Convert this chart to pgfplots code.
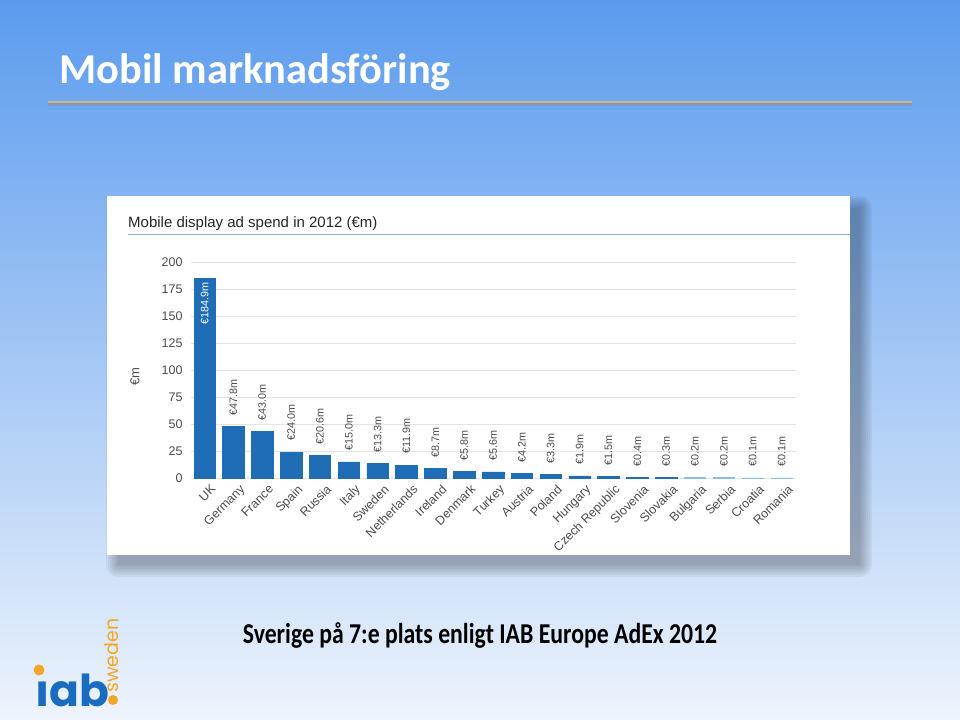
\documentclass[border=0pt]{standalone}
\usepackage{pgfplots}
\pgfplotsset{compat=1.18}
\usepackage{pgfplotstable}
\usepackage{fontspec}
\setmainfont{Liberation Sans}
\newfontfamily\calibri{Carlito}
\newfontfamily\poppins{Poppins}
\definecolor{barblue}{HTML}{1F6EB5}
\definecolor{barlight}{HTML}{8DBCE2}
\definecolor{tickgray}{HTML}{4D4D4D}
\definecolor{bgtop}{HTML}{5B9BEE}
\definecolor{bgmid}{HTML}{9CC4F4}
\definecolor{bgbot}{HTML}{EEF4FC}
\definecolor{goldline}{HTML}{C8B98E}
\definecolor{iabblue}{HTML}{1A6DBE}
\definecolor{iaborange}{HTML}{F5A52A}
\definecolor{titleline}{HTML}{8FB0C8}

\pgfplotstableread{
x y lab
0 184.9 {€184.9m}
}\dataUK
\pgfplotstableread{
x y lab
1 47.8 {€47.8m}
2 43.0 {€43.0m}
3 24.0 {€24.0m}
4 20.6 {€20.6m}
5 15.0 {€15.0m}
6 13.3 {€13.3m}
7 11.9 {€11.9m}
8 8.7 {€8.7m}
9 5.8 {€5.8m}
10 5.6 {€5.6m}
11 4.2 {€4.2m}
12 3.3 {€3.3m}
13 1.9 {€1.9m}
14 1.5 {€1.5m}
15 0.4 {€0.4m}
16 0.3 {€0.3m}
}\dataMid
\pgfplotstableread{
x y lab
17 0.2 {€0.2m}
18 0.2 {€0.2m}
19 0.1 {€0.1m}
20 0.1 {€0.1m}
}\dataLow

\begin{document}
\begin{tikzpicture}
\useasboundingbox (0,0) rectangle (960bp,-720bp);
\begin{scope}[x=1bp,y=-1bp]
\shade[top color=bgtop, middle color=bgmid, bottom color=bgbot] (0,0) rectangle (960,720);
% title + line
\draw[line width=3bp, black!45, opacity=0.5] (48,104.5) -- (912,104.5);
\draw[line width=2.5bp, goldline] (48,102) -- (912,102);
\node[anchor=base west, inner sep=0, text=white, font=\calibri\bfseries\fontsize{42.5bp}{50bp}\selectfont] at (59,83) {Mobil marknadsföring};
% panel shadow
\foreach \e in {0,2,...,12} {\fill[black, opacity=0.045, rounded corners=\e bp] ({118-\e},{208-\e}) rectangle ({860+\e},{565+\e});}
\fill[white] (107,196) rectangle (850,555);
\node[anchor=base west, inner sep=0, text=black!85, font=\fontsize{15bp}{18bp}\selectfont] at (128,227) {Mobile display ad spend in 2012 (€m)};
\draw[titleline, line width=1.5bp] (128,234.5) -- (850,234.5);
% bottom text
\node[anchor=base, inner sep=0, text=black, xscale=0.95, yscale=1.15, font=\calibri\bfseries\fontsize{25bp}{28bp}\selectfont] at (480,643) {Sverige på 7:e plats enligt IAB Europe AdEx 2012};
% logo
\node[anchor=base west, inner sep=0, text=iabblue, font=\poppins\bfseries\fontsize{44bp}{48bp}\selectfont] at (35,706) {ıab};
\fill[iaborange] (39,670) circle (5.5);
\fill[iaborange] (113,700) circle (5);
\node[anchor=base west, inner sep=0, rotate=90, text=iaborange, font=\poppins\fontsize{19bp}{22bp}\selectfont] at (118,693) {sweden};
\end{scope}

\begin{axis}[
  at={(191bp,-478bp)}, anchor=south west,
  scale only axis, width=605bp, height=216bp,
  xmin=-0.47, xmax=20.5, ymin=0, ymax=200,
  axis line style={draw=none},
  ymajorgrids, grid style={draw=black!11, line width=0.9bp},
  major tick length=0pt,
  /pgf/number format/assume math mode=true,
  ytick={0,25,...,200},
  yticklabel style={font=\fontsize{12.5bp}{14bp}\selectfont, text=tickgray, xshift=-5bp},
  xtick={0,...,20},
  xticklabels={UK,Germany,France,Spain,Russia,Italy,Sweden,Netherlands,Ireland,Denmark,Turkey,Austria,Poland,Hungary,Czech Republic,Slovenia,Slovakia,Bulgaria,Serbia,Croatia,Romania},
  xticklabel style={rotate=45, anchor=north east, font=\fontsize{12.5bp}{15bp}\selectfont, text=tickgray, inner sep=1bp, xshift=1bp, yshift=-7bp},
  ylabel={€m},
  every axis y label/.style={at={(rel axis cs:0,0.47)}, xshift=-56bp, rotate=90, anchor=center, font=\fontsize{13bp}{15bp}\selectfont, text=tickgray},
  clip=false,
]
\addplot[ybar, bar width=21.5bp, bar shift=0pt, fill=barblue, draw=barblue, line width=0.6bp,
  nodes near coords, point meta=explicit symbolic,
  every node near coord/.append style={rotate=90, anchor=east, text=white, font=\fontsize{10.8bp}{12bp}\selectfont, inner xsep=4bp, inner ysep=0pt}]
  table[x=x,y=y,meta=lab]{\dataUK};
\addplot[ybar, bar width=21.5bp, bar shift=0pt, fill=barblue, draw=barblue, line width=0.6bp,
  nodes near coords, point meta=explicit symbolic,
  every node near coord/.append style={rotate=90, anchor=west, text=tickgray, font=\fontsize{10.8bp}{12bp}\selectfont, inner xsep=11bp, inner ysep=0pt}]
  table[x=x,y=y,meta=lab]{\dataMid};
\addplot[ybar, bar width=21.5bp, bar shift=0pt, fill=barlight, draw=barlight, line width=0.6bp,
  nodes near coords, point meta=explicit symbolic,
  every node near coord/.append style={rotate=90, anchor=west, text=tickgray, font=\fontsize{10.8bp}{12bp}\selectfont, inner xsep=11bp, inner ysep=0pt}]
  table[x=x,y=y,meta=lab]{\dataLow};
\end{axis}
\end{tikzpicture}
\end{document}
